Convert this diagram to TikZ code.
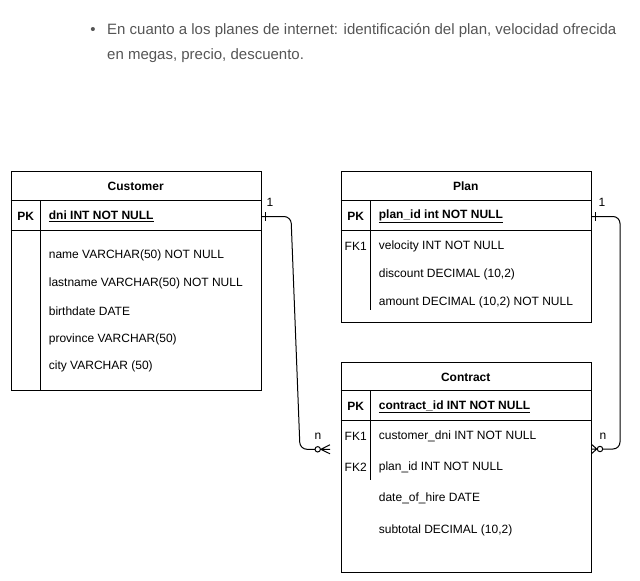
\documentclass[tikz,border=0pt]{standalone}
\usepackage{fontspec}
\setmainfont{Liberation Sans}
\definecolor{txtgray}{HTML}{555555}
\begin{document}
\begin{tikzpicture}[x=1pt,y=-1pt,
  tbl/.style={draw=black,line width=1pt,anchor=north west,inner sep=0pt,fill=white},
  fld/.style={anchor=west,inner sep=0pt,font=\fontsize{12}{14}\selectfont},
  hdr/.style={anchor=center,inner sep=0pt,font=\fontsize{12}{14}\selectfont\bfseries},
  key/.style={anchor=center,inner sep=0pt,font=\fontsize{12}{14}\selectfont},
  sep/.style={line width=1pt},
  conn/.style={line width=1pt,rounded corners=7pt},
  erm/.style={line width=1pt},
  card/.style={anchor=center,inner sep=0pt,font=\fontsize{12}{14}\selectfont},
  para/.style={anchor=west,inner sep=0pt,text=txtgray,font=\fontsize{15}{17}\selectfont}
]
\useasboundingbox (0,0) rectangle (640,581);
% intro text
\node[para,anchor=center] (bul) at (93,31) {•};
\node[para] (l1) at (107,31) {En cuanto a los planes de internet: identificación del plan, velocidad ofrecida};
\node[para] (l2) at (107,56) {en megas, precio, descuento.};

% ---------- Customer ----------
\node[tbl,minimum width=250pt,minimum height=219.3pt] (cust) at (10.7,170.7) {};
\draw[sep] (10.7,200.7) -- (260.7,200.7);
\draw[sep] (10.7,230.3) -- (260.7,230.3);
\draw[sep] (40.7,200.7) -- (40.7,390);
\node[hdr] (custh) at (135.7,186) {Customer};
\node[key,font=\fontsize{12}{14}\selectfont\bfseries] (custpk) at (25.7,216) {PK};
\node[fld,font=\fontsize{12}{14}\selectfont\bfseries] (custdni) at (48.7,216) {\underline{dni INT NOT NULL}};
\node[fld] (cf1) at (48.7,255.5) {name VARCHAR(50) NOT NULL};
\node[fld] (cf2) at (48.7,283.3) {lastname VARCHAR(50) NOT NULL};
\node[fld] (cf3) at (48.7,311) {birthdate DATE};
\node[fld] (cf4) at (48.7,339) {province VARCHAR(50)};
\node[fld] (cf5) at (48.7,366.7) {city VARCHAR (50)};

% ---------- Plan ----------
\node[tbl,minimum width=250pt,minimum height=151pt] (plan) at (340.7,170.7) {};
\draw[sep] (340.7,200.7) -- (590.7,200.7);
\draw[sep] (340.7,230.3) -- (590.7,230.3);
\draw[sep] (370.7,200.7) -- (370.7,310);
\node[hdr] (planh) at (465.7,186) {Plan};
\node[key,font=\fontsize{12}{14}\selectfont\bfseries] (planpk) at (355.7,216) {PK};
\node[fld,font=\fontsize{12}{14}\selectfont\bfseries] (planid) at (378.7,216) {\underline{plan\_id int NOT NULL}};
\node[key] (planfk) at (355.7,246.5) {FK1};
\node[fld] (pf1) at (378.7,246.5) {velocity INT NOT NULL};
\node[fld] (pf2) at (378.7,274) {discount DECIMAL (10,2)};
\node[fld] (pf3) at (378.7,302) {amount DECIMAL (10,2) NOT NULL};

% ---------- Contract ----------
\node[tbl,minimum width=250pt,minimum height=210pt] (contr) at (340.7,361.7) {};
\draw[sep] (340.7,390.7) -- (590.7,390.7);
\draw[sep] (340.7,420.7) -- (590.7,420.7);
\draw[sep] (370.7,390.7) -- (370.7,480);
\node[hdr] (contrh) at (465.7,377) {Contract};
\node[key,font=\fontsize{12}{14}\selectfont\bfseries] (contrpk) at (355.7,406.5) {PK};
\node[fld,font=\fontsize{12}{14}\selectfont\bfseries] (contrid) at (378.7,406.5) {\underline{contract\_id INT NOT NULL}};
\node[key] (contrfk1) at (355.7,436.7) {FK1};
\node[fld] (kf1) at (378.7,436.7) {customer\_dni INT NOT NULL};
\node[key] (contrfk2) at (355.7,467.5) {FK2};
\node[fld] (kf2) at (378.7,467.5) {plan\_id INT NOT NULL};
\node[fld] (kf3) at (378.7,498.5) {date\_of\_hire DATE};
\node[fld] (kf4) at (378.7,530) {subtotal DECIMAL (10,2)};

% ---------- connectors ----------
\coordinate (a0) at (cust.east |- 0,216.5);
\coordinate (a1) at (315,449.3);
\draw[conn] (a0) -- (291,216.5) -- (300,449.3) -- (a1);
\draw[erm] (265.5,212) -- (265.5,221);
\node[erm,draw,circle,minimum size=5.4pt,inner sep=0pt] (ac) at (317.7,449.3) {};
\draw[erm] (ac.east) -- (330,444.8) (ac.east) -- (330,449.3) (ac.east) -- (330,453.8);
\node[card] (a1l) at (270,202) {1};
\node[card] (anl) at (318,436) {n};

\coordinate (b0) at (plan.east |- 0,216.5);
\coordinate (b1) at (602.7,449);
\draw[conn] (b0) -- (620,216.5) -- (620,449) -- (b1);
\draw[erm] (595.5,212) -- (595.5,221);
\node[erm,draw,circle,minimum size=5.4pt,inner sep=0pt] (bc) at (600,449) {};
\draw[erm] (bc.west) -- (contr.east |- 0,444.5) (bc.west) -- (contr.east |- 0,449) (bc.west) -- (contr.east |- 0,453.5);
\node[card] (b1l) at (602,202) {1};
\node[card] (bnl) at (603,436) {n};
\end{tikzpicture}
\end{document}
